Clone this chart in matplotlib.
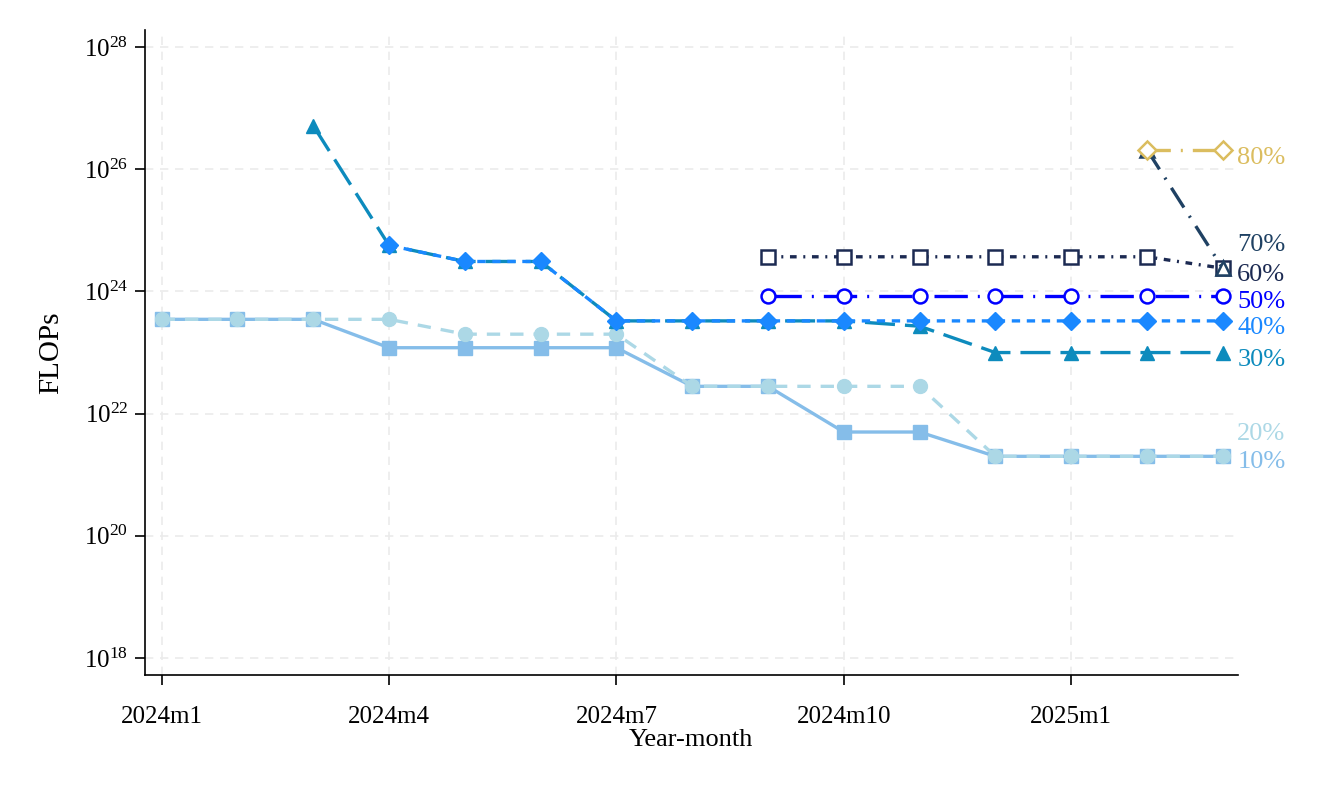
import matplotlib
matplotlib.use("Agg")
import matplotlib.pyplot as plt
import numpy as np

plt.rcParams["font.family"] = ["Liberation Serif", "DejaVu Serif"]
plt.rcParams["mathtext.fontset"] = "custom"
plt.rcParams["mathtext.rm"] = "Liberation Serif"
plt.rcParams["mathtext.it"] = "Liberation Serif:italic"

# month index 0 = 2024m1 ... 14 = 2025m3
tick_pos = [0, 3, 6, 9, 12]
tick_labels = ["2024m1", "2024m4", "2024m7", "2024m10", "2025m1"]

x10 = list(range(0, 15))
y10 = [3.5e23, 3.5e23, 3.5e23, 1.2e23, 1.2e23, 1.2e23, 1.2e23, 2.8e22, 2.8e22,
       5e21, 5e21, 2e21, 2e21, 2e21, 2e21]
x20 = list(range(0, 15))
y20 = [3.5e23, 3.5e23, 3.5e23, 3.5e23, 2e23, 2e23, 2e23, 2.8e22, 2.8e22,
       2.8e22, 2.8e22, 2e21, 2e21, 2e21, 2e21]
x30 = list(range(2, 15))
y30 = [5.2e26, 5.7e24, 3.1e24, 3.1e24, 3.3e23, 3.3e23, 3.3e23, 3.3e23,
       2.7e23, 1e23, 1e23, 1e23, 1e23]
x40 = list(range(3, 15))
y40 = [5.7e24, 3.1e24, 3.1e24] + [3.3e23] * 9
x50 = list(range(8, 15))
y50 = [8.4e23] * 7
x60 = list(range(8, 15))
y60 = [3.7e24] * 6 + [2.4e24]
x70 = [13, 14]
y70 = [2.1e26, 2.4e24]
x80 = [13, 14]
y80 = [2.1e26, 2.1e26]

# label, x, y, colour, linestyle, marker, filled, label offset (points)
series = [
    ("10%", x10, y10, "#85bde9", "-", "s", True, -4),
    ("20%", x20, y20, "#acd8e6", (0, (4, 3)), "o", True, 16),
    ("30%", x30, y30, "#0d8bbd", (0, (9, 3)), "^", True, -5),
    ("40%", x40, y40, "#1a88ff", (0, (2.5, 2)), "D", True, -5),
    ("50%", x50, y50, "#0000ff", (0, (10, 3, 0.6, 3)), "o", False, -4),
    ("60%", x60, y60, "#1c2a52", (0, (2, 2, 0.6, 2)), "s", False, -5),
    ("70%", x70, y70, "#1f4163", (0, (7, 3, 0.6, 3)), "^", False, 17),
    ("80%", x80, y80, "#dbbd5f", (0, (7, 3, 0.6, 3)), "D", False, -6),
]

fig = plt.figure(figsize=(13.2, 7.92), dpi=100)
ax = fig.add_axes([0.1098, 0.1477, 0.828, 0.8143])

for lab, xs, ys, col, ls, mk, filled, dy in series:
    ms = 9 if mk == "D" else 10
    ax.plot(xs, ys, color=col, ls=ls, lw=2.4, marker=mk, ms=ms,
            mfc=col if filled else "white", mec=col, mew=1.8 if not filled else 1)
    ax.annotate(lab, (xs[-1], ys[-1]), xytext=(10.5, dy), textcoords="offset points",
                va="center", ha="left", color=col, fontsize=19)

ax.set_yscale("log")
ax.set_xlim(-0.22, 14.2)
ax.set_ylim(10 ** 17.72, 10 ** 28.28)
ax.set_yticks([1e18, 1e20, 1e22, 1e24, 1e26, 1e28])
ax.set_yticklabels([r"$10^{%d}$" % p for p in range(18, 29, 2)])
ax.yaxis.set_minor_locator(matplotlib.ticker.NullLocator())
ax.set_xticks(tick_pos)
ax.set_xticklabels(tick_labels)
ax.tick_params(axis="both", labelsize=18, length=7, width=1.2, color="black")
ax.tick_params(axis="x", pad=15)
ax.tick_params(axis="y", pad=5)
ax.grid(True, color="#ebebeb", ls=(0, (5, 4)), lw=1.2)
ax.set_axisbelow(True)
for s in ["top", "right"]:
    ax.spines[s].set_visible(False)
for s in ["left", "bottom"]:
    ax.spines[s].set_linewidth(1.2)

ax.set_xlabel("Year-month", fontsize=19, labelpad=1)
ax.set_ylabel("FLOPs", fontsize=21, labelpad=14)

fig.savefig("out.png", dpi=100)
